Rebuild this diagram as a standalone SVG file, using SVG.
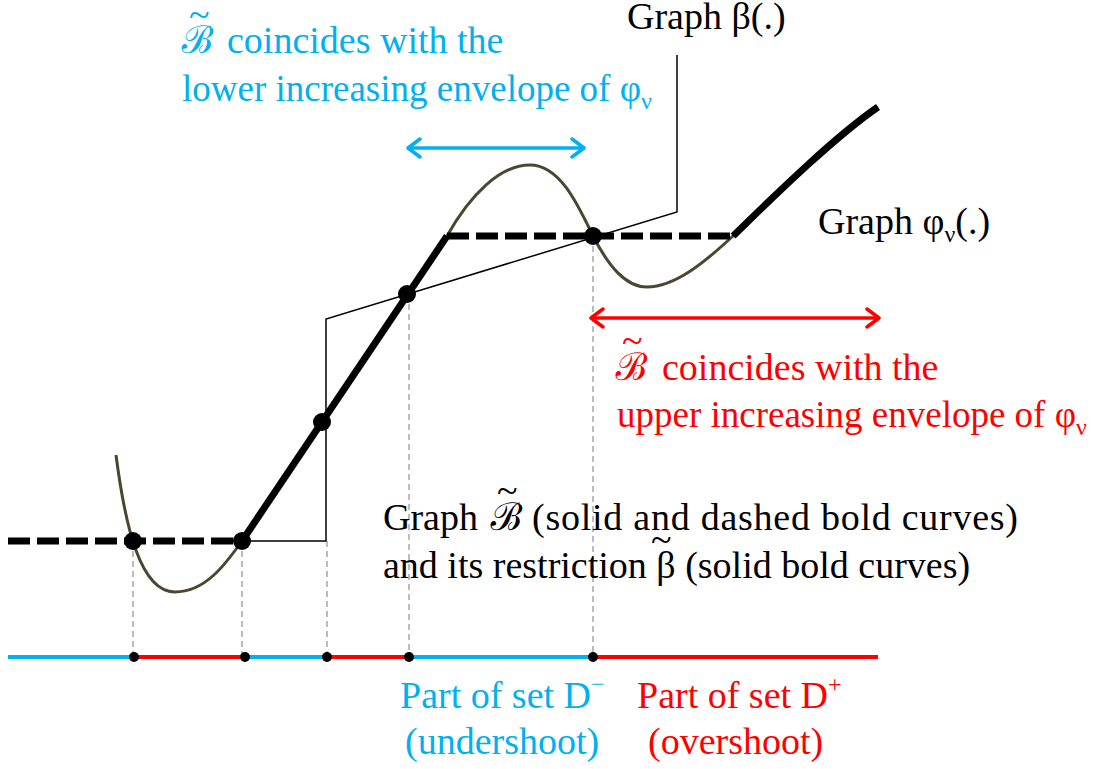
<svg xmlns="http://www.w3.org/2000/svg" width="1109" height="769" viewBox="0 0 1109 769">
<style>
text{font-family:"Liberation Serif","Times New Roman",serif;font-size:38px}
.blue{fill:#00B0F0}.red{fill:#FF0000}
.scr{font-family:"DejaVu Serif","Noto Sans",serif;font-style:italic;font-size:38px}
.sub{font-size:24px}
.env{font-size:37px}
.guide{stroke:#A6A6A6;stroke-width:1.5;stroke-dasharray:6 4;fill:none}
.bold{stroke:#000;stroke-width:7;fill:none}
.dash{stroke:#000;stroke-width:7;stroke-dasharray:22 7;fill:none}
.phi{stroke:#4A4631;stroke-width:3;fill:none}
.beta{stroke:#000;stroke-width:1.5;fill:none}
.ax{stroke-width:4;fill:none}
</style>
<defs>
<marker id="ab" viewBox="0 0 16 22" refX="14" refY="11" markerWidth="16" markerHeight="22" orient="auto-start-reverse" markerUnits="userSpaceOnUse"><path d="M2,2 L14,11 L2,20" fill="none" stroke="#00B0F0" stroke-width="3.5" stroke-linecap="round" stroke-linejoin="round"/></marker>
<marker id="ar" viewBox="0 0 16 22" refX="14" refY="11" markerWidth="16" markerHeight="22" orient="auto-start-reverse" markerUnits="userSpaceOnUse"><path d="M2,2 L14,11 L2,20" fill="none" stroke="#FF0000" stroke-width="3.5" stroke-linecap="round" stroke-linejoin="round"/></marker>
</defs>
<g id="connectors">
<g id="guides">
<path class="guide" d="M133,541V657M242,541V657M327,541V657M409,294V657M593,236V657"/>
</g>
<g id="axis">
<path class="ax" stroke="#00B0F0" d="M8,657H134M245,657H327M409,657H593"/>
<path class="ax" stroke="#FF0000" d="M134,657H245M327,657H409M593,657H878"/>
</g>
<g id="graph-beta">
<path class="beta" d="M245,541H326V319L677,212V55"/>
</g>
<g id="graph-phi">
<path class="phi" d="M116,455C125,525 140,592 175,592C205,592 225,565 242,541L447,236C470,195 500,165 530,165C560,165 578,205 593,236C608,265 625,287 647,287C675,287 705,262 733,236C760,210 830,140 878,107"/>
</g>
<g id="graph-B">
<path class="dash" d="M8,541H242"/>
<path class="dash" d="M447,236H733"/>
<path class="bold" d="M242,541L447,236"/>
<path class="bold" d="M733,236C760,210 830,140 878,107"/>
</g>
<g id="arrows">
<path d="M408,148H584" stroke="#00B0F0" stroke-width="3.5" marker-start="url(#ab)" marker-end="url(#ab)" fill="none"/>
<path d="M591,318H879" stroke="#FF0000" stroke-width="3.5" marker-start="url(#ar)" marker-end="url(#ar)" fill="none"/>
</g>
</g>
<g id="points">
<circle cx="133" cy="541" r="9"/>
<circle cx="242" cy="541" r="9"/>
<circle cx="322" cy="422" r="9"/>
<circle cx="407" cy="294" r="9"/>
<circle cx="593" cy="236" r="9"/>
<circle cx="134" cy="657" r="5"/>
<circle cx="245" cy="657" r="5"/>
<circle cx="327" cy="657" r="5"/>
<circle cx="409" cy="657" r="5"/>
<circle cx="593" cy="657" r="5"/>
</g>
<g id="label-beta"><text x="627" y="29">Graph β(.)</text></g>
<g id="label-phi"><text x="818" y="234">Graph φ<tspan class="sub" dy="8">ν</tspan><tspan dy="-8">(.)</tspan></text></g>
<g id="label-lower">
<text class="scr blue" x="181" y="53">ℬ</text><text class="blue" x="189" y="27">~</text>
<text class="blue" x="227" y="53">coincides with the</text>
<text class="blue env" x="182" y="101">lower increasing envelope of φ<tspan class="sub" dy="8">ν</tspan></text>
</g>
<g id="label-upper">
<text class="scr red" x="615" y="380">ℬ</text><text class="red" x="622" y="353">~</text>
<text class="red" x="662" y="380">coincides with the</text>
<text class="red env" x="617" y="427">upper increasing envelope of φ<tspan class="sub" dy="8">ν</tspan></text>
</g>
<g id="label-graphB">
<text x="383" y="530">Graph</text>
<text class="scr" x="490" y="530">ℬ</text><text x="497" y="503">~</text>
<text x="532" y="530" textLength="486" lengthAdjust="spacing">(solid and dashed bold curves)</text>
<text x="383" y="578">and its restriction β (solid bold curves)</text>
<text x="651" y="552">~</text>
</g>
<g id="label-Dminus">
<text class="blue" x="400" y="708">Part of set D<tspan class="sub" dy="-16">−</tspan></text>
<text class="blue" x="405" y="754">(undershoot)</text>
</g>
<g id="label-Dplus">
<text class="red" x="637" y="708">Part of set D<tspan class="sub" dy="-16">+</tspan></text>
<text class="red" x="648" y="754">(overshoot)</text>
</g>
</svg>
